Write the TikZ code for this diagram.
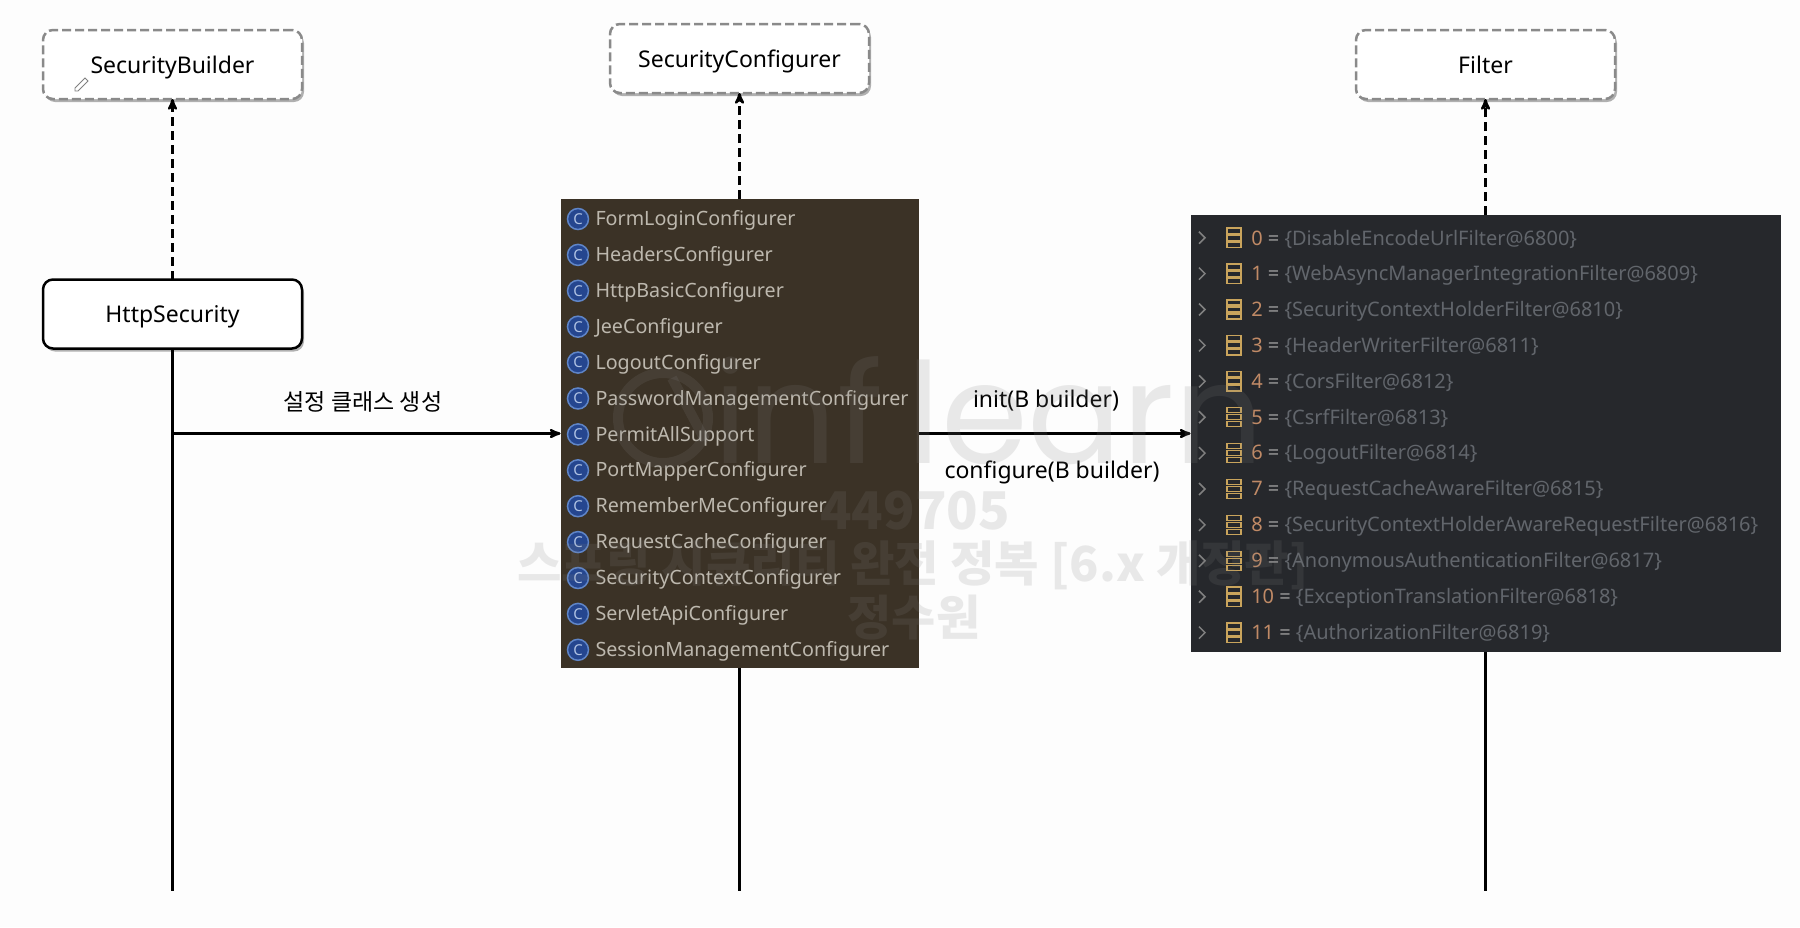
\documentclass[tikz,border=0pt]{standalone}
\usepackage{fontspec}
\setmainfont{Noto Sans}
\newfontfamily\krfont{Noto Sans CJK KR}
\newfontfamily\logofont{Poppins}
\usetikzlibrary{arrows,positioning,shadows}

\definecolor{pagebg}{HTML}{FDFDFD}
\definecolor{cfgbg}{HTML}{3B3226}
\definecolor{cfgtext}{HTML}{BDB8AE}
\definecolor{iconfill}{HTML}{25468F}
\definecolor{iconline}{HTML}{5F85C8}
\definecolor{filterbg}{HTML}{26282C}
\definecolor{filtertext}{HTML}{62666C}
\definecolor{filternum}{HTML}{C08A66}
\definecolor{bargold}{HTML}{C9A45C}
\definecolor{dashgray}{HTML}{8A8A8A}

\begin{document}
\begin{tikzpicture}[x=1pt,y=-1pt,>=stealth',line width=2.5pt,node distance=215pt,
    classbox/.style={draw,fill=white,rounded corners=10pt,minimum width=259pt,minimum height=69pt,
      inner sep=0pt,outer sep=0pt,text height=17pt,text depth=0pt,font=\fontsize{23}{27}\selectfont,
      drop shadow={shadow xshift=2pt,shadow yshift=-3pt,opacity=.3,fill=black}},
    ifacebox/.style={classbox,draw=dashgray,dash pattern=on 9pt off 4pt},
    realize/.style={->,dash pattern=on 9pt off 5pt},
    calltext/.style={font=\fontsize{23}{27}\selectfont},
    darkbox/.style={inner sep=0pt,outer sep=0pt},
    cfgrow/.style={anchor=west,inner sep=0pt,yshift=-1.5pt,text=cfgtext,font=\fontsize{19.7}{24}\selectfont},
    cicon/.style={circle,draw=iconline,fill=iconfill,line width=1.5pt,minimum size=21pt,inner sep=0pt,
      text=iconline!50!white,font=\fontsize{15}{15}\selectfont},
    filterrow/.style={anchor=west,inner sep=0pt,text=filtertext,font=\fontsize{20}{24}\selectfont},
    chevron/.style={draw=gray,line width=1.5pt},
    waterm/.style={text=gray,opacity=.16,inner sep=0pt}]

  \fill[pagebg] (0,0) rectangle (1800,927);
  \useasboundingbox (0,0) rectangle (1800,927);

  \node[ifacebox] (builder) at (172.5,64.5) {SecurityBuilder};
  \node[classbox] (httpsec) [below of=builder,yshift=-34.5pt] {HttpSecurity};
  \node[ifacebox] (configurer) at (739.5,58.5) {SecurityConfigurer};
  \node[ifacebox] (filter) at (1485.5,64.5) {Filter};

  \node[darkbox,fill=cfgbg,minimum width=358pt,minimum height=469pt] (cfgbox) at (739.5,433.5) {};
  \node[darkbox,fill=filterbg,minimum width=590pt,minimum height=437pt] (filterbox) at (1485.5,433.5) {};

  \coordinate (httpend) at (172.5,891);
  \coordinate (cfgend) at (739.5,891);
  \coordinate (filterend) at (1485.5,891);

  \foreach \i/\cname in {0/FormLoginConfigurer,1/HeadersConfigurer,2/HttpBasicConfigurer,
      3/JeeConfigurer,4/LogoutConfigurer,5/PasswordManagementConfigurer,6/PermitAllSupport,
      7/PortMapperConfigurer,8/RememberMeConfigurer,9/RequestCacheConfigurer,
      10/SecurityContextConfigurer,11/ServletApiConfigurer,12/SessionManagementConfigurer}{
    \node[cicon] (cfgicon\i) at (578,{219+35.9*\i}) {C};
    \node[cfgrow,right=5pt of cfgicon\i] (cfg\i) {\cname};
  }

  \foreach \i/\fnum/\fname in {0/0/DisableEncodeUrlFilter@6800,1/1/WebAsyncManagerIntegrationFilter@6809,
      2/2/SecurityContextHolderFilter@6810,3/3/HeaderWriterFilter@6811,4/4/CorsFilter@6812,
      5/5/CsrfFilter@6813,6/6/LogoutFilter@6814,7/7/RequestCacheAwareFilter@6815,
      8/8/SecurityContextHolderAwareRequestFilter@6816,9/9/AnonymousAuthenticationFilter@6817,
      10/10/ExceptionTranslationFilter@6818,11/11/AuthorizationFilter@6819}{
    \node[filterrow] (flt\i) at (1250,{239+35.9*\i}) {\textcolor{filternum}{\fnum} \textcolor{gray!80!white}{=} \{\fname\}};
    \draw[chevron] (1199,{231.7+35.9*\i}) -- (1205,{237.7+35.9*\i}) -- (1199,{243.7+35.9*\i});
    \foreach \b in {-7,0,7}
      \draw[bargold,line width=1.3pt] (1227,{237.7+35.9*\i+\b-2.6}) rectangle (1241,{237.7+35.9*\i+\b+2.6});
  }

  \draw[realize] (httpsec) -- (builder);
  \draw[realize] (cfgbox) -- (configurer);
  \draw[realize] (filterbox) -- (filter);

  \draw (httpsec) -- (httpend);
  \draw (cfgbox) -- (cfgend);
  \draw (filterbox) -- (filterend);

  \draw[->] (httpsec |- cfgbox) -- (cfgbox.west);
  \draw[->] (cfgbox.east) -- (filterbox.west);

  \node[calltext,font=\krfont\fontsize{23}{27}\selectfont] (create) at (363,402) {설정 클래스 생성};
  \node[calltext] (init) at (1046,401) {init(B builder)};
  \node[calltext] (config) at (1052,472) {configure(B builder)};

  \draw[gray,line width=.8pt,fill=white] (75,88) -- (85,78) -- (88,81) -- (78,91) -- (75,91) -- cycle;

  \begin{scope}[line width=10pt,opacity=.16,draw=gray]
    \draw (663,418) circle [radius=45pt];
    \draw (672,378) -- (705,440);
  \end{scope}
  \node[waterm,anchor=base west,font=\logofont\fontsize{140}{140}\selectfont] (logo) at (712,463) {inf\,learn};
  \node[waterm,font=\krfont\bfseries\fontsize{52}{56}\selectfont] (wmid) at (915,511) {449705};
  \node[waterm,font=\krfont\bfseries\fontsize{48.3}{52}\selectfont] (wtitle) at (913,565) {스프링 시큐리티 완전 정복 [6.x 개정판]};
  \node[waterm,font=\krfont\bfseries\fontsize{48}{52}\selectfont] (wname) at (914,618) {정수원};

\end{tikzpicture}
\end{document}
